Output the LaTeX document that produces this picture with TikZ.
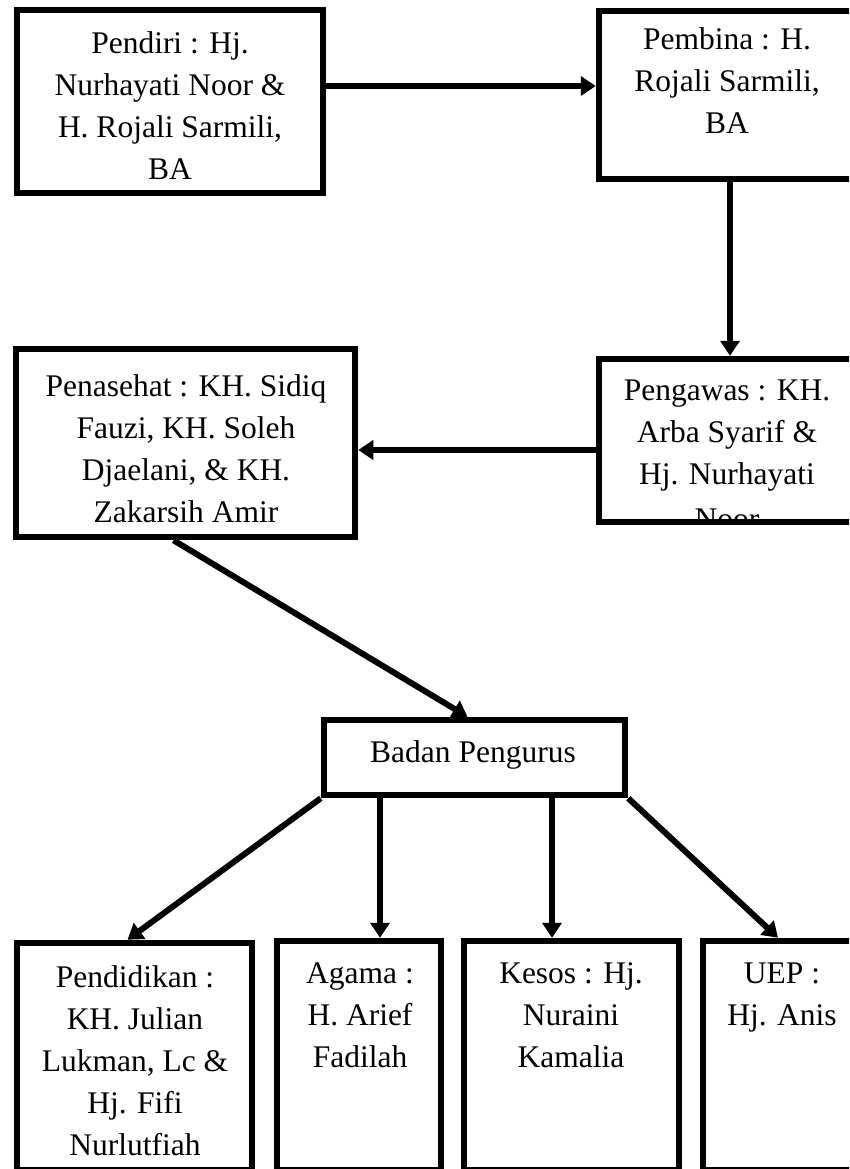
\documentclass[tikz,border=0pt]{standalone}
\usepackage{fontspec}
\setmainfont{Liberation Serif}
\usetikzlibrary{arrows.meta,calc}
\begin{document}
\begin{tikzpicture}[x=1pt,y=-1pt,
  box/.style={draw, line width=6.5pt, rectangle, inner sep=0pt},
  txt/.style={font=\fontsize{31.5}{42}\selectfont, align=center, inner sep=0pt, anchor=north},
  arr/.style={line width=6pt, -{Triangle[width=19pt,length=15pt]}}]
\useasboundingbox (0,0) rectangle (849,1169);
\clip (0,0) rectangle (849,1169);
\fill[white] (0,0) rectangle (849,1169);

% boxes
\node[box, minimum width=306pt, minimum height=183pt] (pendiri) at (170,101.5) {};
\node[box, minimum width=262pt, minimum height=168pt] (pembina) at (730,95) {};
\node[box, minimum width=262pt, minimum height=163pt] (pengawas) at (730,440.5) {};
\node[box, minimum width=339pt, minimum height=188pt] (penasehat) at (185.5,443) {};
\node[box, minimum width=301pt, minimum height=75pt] (badan) at (474.5,757.5) {};
\node[box, minimum width=235pt, minimum height=227pt] (pendidikan) at (134.5,1056.5) {};
\node[box, minimum width=164pt, minimum height=229pt] (agama) at (359,1055.5) {};
\node[box, minimum width=215pt, minimum height=229pt] (kesos) at (571.5,1055.5) {};
\node[box, minimum width=158pt, minimum height=229pt] (uep) at (782,1055.5) {};

% texts
\node[txt] (tpendiri) at (170,23.6) {\strut Pendiri : Hj.\\ Nurhayati Noor \&\\ H. Rojali Sarmili,\\ BA};
\node[txt] (tpembina) at (727,19.6) {\strut Pembina : H.\\ Rojali Sarmili,\\ BA};
\begin{scope}
  \clip (602.75,362.25) rectangle (870,518.75);
  \node[txt] (tpengawas) at (727,370.6) {\strut Pengawas : KH.\\ Arba Syarif \&\\ Hj. Nurhayati\\[3pt] Noor};
\end{scope}
\node[txt] (tpenasehat) at (186,366.6) {\strut Penasehat : KH. Sidiq\\ Fauzi, KH. Soleh\\ Djaelani, \& KH.\\ Zakarsih Amir};
\node[txt] (tbadan) at (473,732.6) {\strut Badan Pengurus};
\node[txt] (tpendidikan) at (135,957.6) {\strut Pendidikan :\\ KH. Julian\\ Lukman, Lc \&\\ Hj. Fifi\\ Nurlutfiah};
\node[txt] (tagama) at (360,953.6) {\strut Agama :\\ H. Arief\\ Fadilah};
\node[txt] (tkesos) at (571,953.6) {\strut Kesos : Hj.\\ Nuraini\\ Kamalia};
\node[txt] (tuep) at (782,953.6) {\strut UEP :\\ Hj. Anis};

% connectors
\coordinate (ya) at (0,86);
\coordinate (yb) at (0,450);
\coordinate (xa) at (380,0);
\coordinate (xk) at (552,0);
\draw[arr] (pendiri.east |- ya) -- (pembina.west |- ya);
\draw[arr] (pembina.south) -- (pengawas.north);
\draw[arr] (pengawas.west |- yb) -- (penasehat.east |- yb);
\draw[arr] ($(penasehat.south)+(-12,0)$) -- ($(badan.north)+(-7,0)$);
\draw[arr] (badan.south west) -- ($(pendidikan.north)+(-7,0)$);
\draw[arr] (badan.south -| xa) -- (agama.north -| xa);
\draw[arr] (badan.south -| xk) -- (kesos.north -| xk);
\draw[arr] (badan.south east) -- ($(uep.north)+(-4,0)$);
\end{tikzpicture}
\end{document}
